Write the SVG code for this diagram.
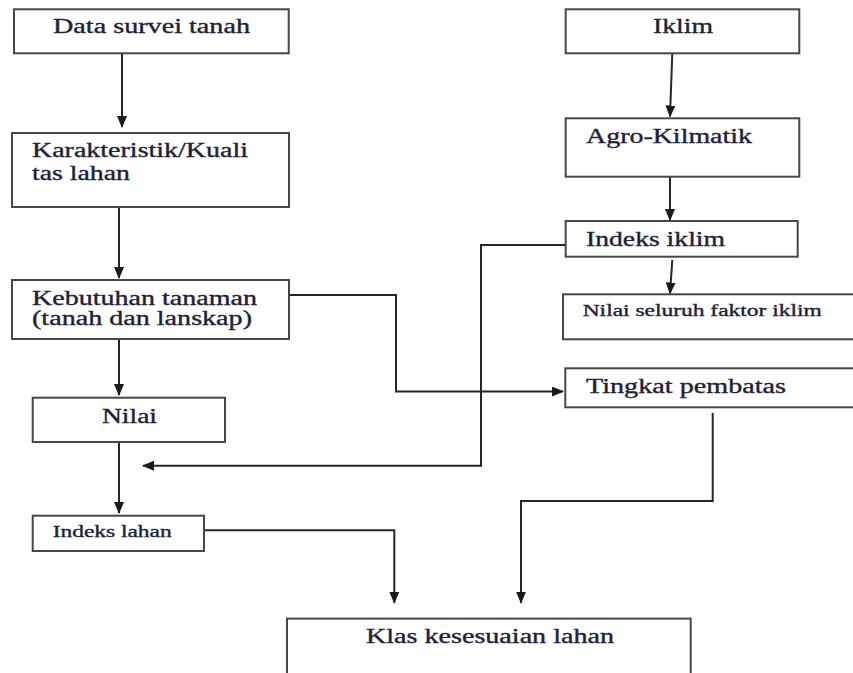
<svg xmlns="http://www.w3.org/2000/svg" width="853" height="673" viewBox="0 0 853 673">
<style>
.box{fill:#ffffff;stroke:#474747;stroke-width:2}
.t{font-family:"Liberation Serif","Times New Roman",serif;font-size:20px;fill:#1e2238;stroke:#1e2238;stroke-width:0.35}
.s{font-size:16px}
.c{fill:none;stroke:#262626;stroke-width:2}
</style>
<defs>
<marker id="ah" markerUnits="userSpaceOnUse" viewBox="0 0 12 10" refX="11" refY="5" markerWidth="12" markerHeight="10" orient="auto">
<path d="M0,0 L12,5 L0,10 z" fill="#1a1a1a"/>
</marker>
</defs>
<rect x="0" y="0" width="853" height="673" fill="#ffffff"/>
<g id="connectors">
<path class="c" d="M122,53 V127" marker-end="url(#ah)"/>
<path class="c" d="M119,207 V278" marker-end="url(#ah)"/>
<path class="c" d="M119,339 V395" marker-end="url(#ah)"/>
<path class="c" d="M119,442 V513" marker-end="url(#ah)"/>
<path class="c" d="M289,295 H396 V391.5 H563" marker-end="url(#ah)"/>
<path class="c" d="M672.3,53 L670,116.5" marker-end="url(#ah)"/>
<path class="c" d="M670,176.7 V220" marker-end="url(#ah)"/>
<path class="c" d="M672.3,260 L670,293.5" marker-end="url(#ah)"/>
<path class="c" d="M565.7,245 H481 V465.7 H143" marker-end="url(#ah)"/>
<path class="c" d="M204,530.3 H394.3 V602.7" marker-end="url(#ah)"/>
<path class="c" d="M712.7,413 V501 H521 V602.7" marker-end="url(#ah)"/>
</g>
<g id="data-survei">
<rect class="box" x="14" y="9.3" width="274.7" height="44"/>
<text class="t" x="53" y="33.3" textLength="197" lengthAdjust="spacingAndGlyphs">Data survei tanah</text>
</g>
<g id="karakteristik">
<rect class="box" x="12" y="133" width="277" height="74"/>
<text class="t" x="32" y="157" textLength="216" lengthAdjust="spacingAndGlyphs">Karakteristik/Kuali</text>
<text class="t" x="32" y="180" textLength="98" lengthAdjust="spacingAndGlyphs">tas lahan</text>
</g>
<g id="kebutuhan">
<rect class="box" x="12" y="280" width="277" height="59"/>
<text class="t" x="32" y="305" textLength="225" lengthAdjust="spacingAndGlyphs">Kebutuhan tanaman</text>
<text class="t" x="32" y="325" textLength="220" lengthAdjust="spacingAndGlyphs">(tanah dan lanskap)</text>
</g>
<g id="nilai">
<rect class="box" x="32.7" y="397.7" width="192.3" height="44.3"/>
<text class="t" x="102" y="422.7" textLength="55" lengthAdjust="spacingAndGlyphs">Nilai</text>
</g>
<g id="indeks-lahan">
<rect class="box" x="32.7" y="515.7" width="171.3" height="35.3"/>
<text class="t s" x="52.7" y="537.3" textLength="119" lengthAdjust="spacingAndGlyphs">Indeks lahan</text>
</g>
<g id="iklim">
<rect class="box" x="565.7" y="9.3" width="233.6" height="44"/>
<text class="t" x="653" y="33.3" textLength="60" lengthAdjust="spacingAndGlyphs">Iklim</text>
</g>
<g id="agro-kilmatik">
<rect class="box" x="565.7" y="118.3" width="233.6" height="58.4"/>
<text class="t" x="586" y="143.3" textLength="166" lengthAdjust="spacingAndGlyphs">Agro-Kilmatik</text>
</g>
<g id="indeks-iklim">
<rect class="box" x="565.7" y="221" width="232" height="35.7"/>
<text class="t" x="586" y="246" textLength="139" lengthAdjust="spacingAndGlyphs">Indeks iklim</text>
</g>
<g id="nilai-seluruh">
<rect class="box" x="563" y="294.3" width="300" height="45"/>
<text class="t s" x="582.7" y="316" textLength="239" lengthAdjust="spacingAndGlyphs">Nilai seluruh faktor iklim</text>
</g>
<g id="tingkat-pembatas">
<rect class="box" x="565.3" y="368.3" width="300" height="39"/>
<text class="t" x="586" y="393.3" textLength="200" lengthAdjust="spacingAndGlyphs">Tingkat pembatas</text>
</g>
<g id="klas-kesesuaian">
<rect class="box" x="287" y="618.6" width="403.7" height="70"/>
<text class="t" x="366" y="643" textLength="248" lengthAdjust="spacingAndGlyphs">Klas kesesuaian lahan</text>
</g>
</svg>
